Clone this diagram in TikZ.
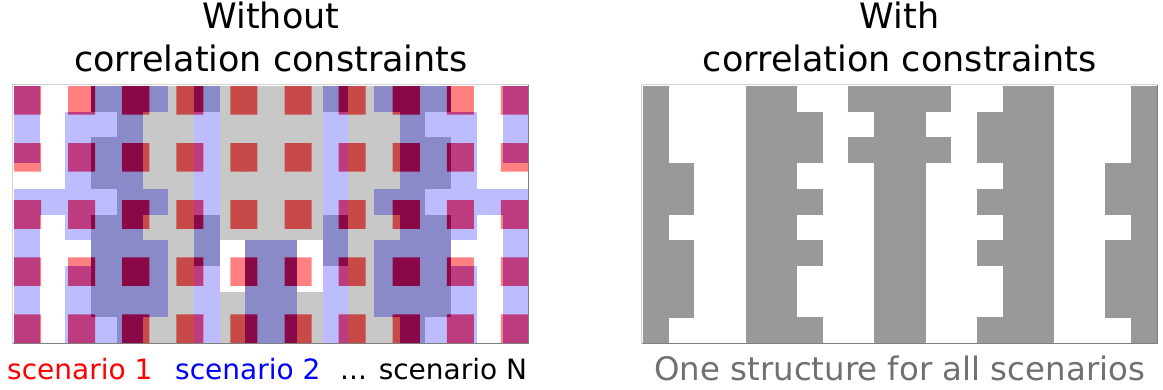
\documentclass[tikz,border=0pt]{standalone}
\usepackage{fontspec}
\setmainfont{DejaVu Sans}

% base cell colours of the overlaid layouts: white, grey only, blue only, blue+grey
\definecolor{L0}{HTML}{FFFFFF}
\definecolor{L1}{HTML}{C8C8C8}
\definecolor{L2}{HTML}{BCBCFF}
\definecolor{L3}{HTML}{8A8AC8}
% the same cells seen through the red squares
\definecolor{P0}{HTML}{FF8080}
\definecolor{P1}{HTML}{C84A48}
\definecolor{P2}{HTML}{BC3C7F}
\definecolor{P3}{HTML}{8A0848}
% single shared design
\definecolor{sharedgrey}{HTML}{999999}
\definecolor{framelight}{HTML}{D4D4D4}
\definecolor{framedark}{HTML}{7F7F7F}
\definecolor{caption}{HTML}{707070}

% one row of the symmetric 20x10 layout: #1 colour prefix, #2 left x, #3 row, #4 codes of columns 0..9
\newcommand\paintrow[4]{%
  \foreach \k [count=\c from 0] in {#4} {
    \fill[fill=#1\k] ({#2+25.7*\c},{86+25.7*#3}) rectangle ++(25.9,25.9);
    \fill[fill=#1\k] ({#2+25.7*(19-\c)},{86+25.7*#3}) rectangle ++(25.9,25.9);
  }}
% every row of the overlaid layouts
\newcommand\paintoverlay[1]{%
  \paintrow{#1}{14}{0}{2,0,0,3,3,3,1,3,1,1}
  \paintrow{#1}{14}{1}{2,0,2,2,3,1,1,2,1,1}
  \paintrow{#1}{14}{2}{2,0,2,3,3,1,1,2,1,1}
  \paintrow{#1}{14}{3}{0,0,2,3,3,1,1,2,1,1}
  \paintrow{#1}{14}{4}{2,2,2,2,3,3,1,2,1,1}
  \paintrow{#1}{14}{5}{2,0,2,3,3,1,1,3,1,1}
  \paintrow{#1}{14}{6}{2,0,0,3,3,3,1,3,0,3}
  \paintrow{#1}{14}{7}{2,0,2,3,3,3,1,2,0,3}
  \paintrow{#1}{14}{8}{2,0,2,3,3,3,1,2,1,3}
  \paintrow{#1}{14}{9}{2,0,2,2,3,1,1,2,1,3}}
% one column of the shared design and its mirror: #1 column, #2 codes of rows 0..9
\newcommand\paintcol[2]{%
  \foreach \k [count=\r from 0] in {#2} {
    \ifnum\k=1
      \fill[fill=sharedgrey] ({642.7+25.7*#1},{86+25.7*\r}) rectangle ++(25.9,25.9);
      \fill[fill=sharedgrey] ({642.7+25.7*(19-#1)},{86+25.7*\r}) rectangle ++(25.9,25.9);
    \fi
  }}

\tikzset{
  title/.style={font=\fontsize{35}{42}\selectfont, anchor=base, inner sep=0pt},
  label/.style={font=\fontsize{28}{34}\selectfont, anchor=base west, inner sep=0pt},
  edgelight/.style={draw=framelight, line width=1pt},
  edgedark/.style={draw=framedark, line width=1pt}
}

\begin{document}
\begin{tikzpicture}[x=1pt,y=-1pt]
\useasboundingbox (0,0) rectangle (1163,389);

% ---------- left: several scenario designs overlaid ----------
\paintoverlay{L}
\begin{scope}
  \clip \foreach \i in {0,...,9} { \foreach \j in {0,...,4}
        { ({14+2*\i*514/19},{86+2*\j*257/9}) rectangle ++({514/19},{257/9}) } };
  \paintoverlay{P}
\end{scope}
\draw[edgelight] (12.5,343.5) |- (528.5,84.5);
\draw[edgedark] (528.3,84.5) |- (12.5,343.5);

% ---------- right: one shared design ----------
\paintcol{0}{1,1,1,1,1,1,1,1,1,1}
\paintcol{1}{0,0,0,1,1,0,1,1,1,0}
\paintcol{4}{1,1,1,1,1,1,1,1,1,1}
\paintcol{5}{1,1,1,1,1,1,1,1,1,1}
\paintcol{6}{0,1,1,0,1,0,1,0,0,1}
\paintcol{8}{1,0,1,0,0,0,0,0,0,0}
\paintcol{9}{1,1,1,1,1,1,1,1,1,1}
\draw[edgelight] (641.7,343.5) |- (1157.2,84.5);
\draw[edgedark] (1157,84.5) |- (641.7,343.5);

% ---------- titles ----------
\node[title] (t1a) at (271,28.3) {Without};
\node[title] (t1b) at (271,71.7) {correlation constraints};
\node[title] (t2a) at (899.7,28.3) {With};
\node[title] (t2b) at (899.7,71.7) {correlation constraints};

% ---------- captions ----------
\node[label, text=red]  (s1) at (7,379) {scenario 1};
\node[label, text=blue] (s2) at (175,379) {scenario 2};
\node[label]            (sn) at (340,379) {... scenario N};
\node[font=\fontsize{32.4}{39}\selectfont, anchor=base, inner sep=0pt, text=caption]
     (one) at (899.7,380) {One structure for all scenarios};
\end{tikzpicture}
\end{document}
